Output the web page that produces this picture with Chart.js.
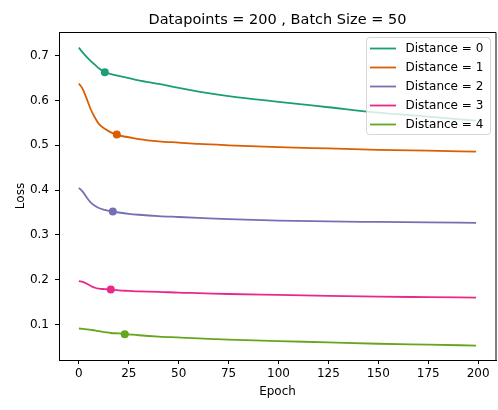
<!DOCTYPE html>
<html>
<head>
<meta charset="utf-8">
<script src="https://cdn.jsdelivr.net/npm/chart.js@4.4.1/dist/chart.umd.min.js"></script>
<style>
  html, body { margin: 0; padding: 0; background: #fff; overflow: hidden; }
  canvas { display: block; }
</style>
</head>
<body>
<canvas id="lossChart" width="500" height="410"></canvas>
<script>
// Data
const epochs = [0, 2, 4, 6, 8, 10, 13, 16, 20, 25, 30, 40, 50, 60, 75, 100, 125, 150, 175, 199];
const lossDist0 = [0.718, 0.707, 0.697, 0.688, 0.680, 0.672, 0.663, 0.659, 0.655, 0.650, 0.645, 0.637, 0.628, 0.620, 0.610, 0.597, 0.585, 0.573, 0.564, 0.555];
const lossDist1 = [0.638, 0.625, 0.603, 0.580, 0.562, 0.548, 0.537, 0.529, 0.522, 0.518, 0.514, 0.509, 0.506, 0.503, 0.500, 0.496, 0.493, 0.490, 0.488, 0.486];
const lossDist2 = [0.405, 0.396, 0.383, 0.372, 0.365, 0.360, 0.356, 0.353, 0.350, 0.347, 0.345, 0.342, 0.340, 0.338, 0.335, 0.332, 0.330, 0.329, 0.328, 0.327];
const lossDist3 = [0.197, 0.195, 0.191, 0.186, 0.182, 0.180, 0.179, 0.178, 0.176, 0.175, 0.174, 0.173, 0.171, 0.170, 0.168, 0.166, 0.164, 0.162, 0.161, 0.160];
const lossDist4 = [0.091, 0.090, 0.089, 0.088, 0.087, 0.085, 0.083, 0.081, 0.080, 0.078, 0.076, 0.073, 0.071, 0.069, 0.066, 0.063, 0.060, 0.057, 0.055, 0.053];

const seriesLabels = ['Distance = 0', 'Distance = 1', 'Distance = 2', 'Distance = 3', 'Distance = 4'];
const seriesColors = ['#1b9e77', '#d95f02', '#7570b3', '#e7298a', '#66a61e'];
const seriesLoss = [lossDist0, lossDist1, lossDist2, lossDist3, lossDist4];

// one marked point on each curve
const markerEpochs = [13, 19, 17, 16, 23];
const markerLoss = [0.663, 0.524, 0.352, 0.178, 0.078];

const xTicks = [0, 25, 50, 75, 100, 125, 150, 175, 200];
const yTicks = [0.1, 0.2, 0.3, 0.4, 0.5, 0.6, 0.7];

Chart.defaults.font.family = 'DejaVu Sans';
Chart.defaults.color = '#000';

// Build the datasets
const datasets = [];
seriesLoss.forEach((loss, i) => {
    datasets.push({
        label: seriesLabels[i],
        data: epochs.map((e, j) => ({ x: e, y: loss[j] })),
        borderColor: seriesColors[i],
        borderWidth: 1.8,
        pointRadius: 0,
        fill: false,
        cubicInterpolationMode: 'monotone',
        inLegend: true
    });
});
seriesLoss.forEach((loss, i) => {
    datasets.push({
        label: seriesLabels[i] + ' marker',
        data: [{ x: markerEpochs[i], y: markerLoss[i] }],
        showLine: false,
        pointRadius: 4,
        pointBackgroundColor: seriesColors[i],
        pointBorderColor: seriesColors[i],
        pointBorderWidth: 0
    });
});

// top and right spines
const frameBox = {
    id: 'frameBox',
    afterDatasetsDraw(chart) {
        const { ctx, chartArea } = chart;
        ctx.save();
        ctx.strokeStyle = '#000';
        ctx.lineWidth = 1;
        ctx.beginPath();
        ctx.moveTo(chartArea.left, chartArea.top + 0.5);
        ctx.lineTo(chartArea.right, chartArea.top + 0.5);
        ctx.lineTo(chartArea.right, chartArea.bottom);
        ctx.stroke();
        ctx.restore();
    }
};

// matplotlib style legend box in the upper right
const boxLegend = {
    id: 'boxLegend',
    afterDraw(chart) {
        const { ctx, chartArea } = chart;
        const items = chart.data.datasets.filter(d => d.inLegend);
        const w = 124, rowH = 19;
        const h = items.length * rowH + 2;
        const right = chartArea.right - 5.5;
        const left = right - w;
        const top = chartArea.top + 5.5;
        ctx.save();
        ctx.fillStyle = 'rgba(255,255,255,0.8)';
        ctx.strokeStyle = 'rgba(204,204,204,0.8)';
        ctx.lineWidth = 1;
        ctx.beginPath();
        ctx.roundRect(left, top, w, h, 3);
        ctx.fill();
        ctx.stroke();
        ctx.font = '12px "DejaVu Sans"';
        ctx.textBaseline = 'middle';
        ctx.fillStyle = '#000';
        items.forEach((d, i) => {
            const y = top + 11 + i * rowH;
            ctx.strokeStyle = d.borderColor;
            ctx.lineWidth = 1.8;
            ctx.beginPath();
            ctx.moveTo(left + 3.5, y);
            ctx.lineTo(left + 29.5, y);
            ctx.stroke();
            ctx.fillText(d.label, left + 39, y + 0.5);
        });
        ctx.restore();
    }
};

new Chart(document.getElementById('lossChart').getContext('2d'), {
    type: 'line',
    data: { datasets: datasets },
    options: {
        responsive: false,
        animation: false,
        layout: { padding: { left: 0, right: 1.3, top: 0, bottom: 0 } },
        plugins: {
            legend: { display: false },
            tooltip: { enabled: false },
            title: {
                display: true,
                text: 'Datapoints = 200 , Batch Size = 50',
                fullSize: false,
                color: '#000',
                font: { size: 14.5, weight: 'normal' },
                padding: { top: 11.3, bottom: 3.3 }
            }
        },
        scales: {
            x: {
                type: 'linear',
                min: -9.95,
                max: 208.95,
                afterBuildTicks: s => { s.ticks = xTicks.map(v => ({ value: v })); },
                afterFit: s => { s.height = 50; },
                ticks: { font: { size: 12 }, color: '#000', padding: 3, maxRotation: 0,
                         callback: v => String(v) },
                grid: { drawOnChartArea: false, drawTicks: true, tickLength: 4, tickColor: '#000' },
                border: { display: true, color: '#000', width: 1 },
                title: { display: true, text: 'Epoch', color: '#000', font: { size: 12 },
                         padding: { top: 0, bottom: 11 } }
            },
            y: {
                type: 'linear',
                min: 0.0207,
                max: 0.753,
                afterBuildTicks: s => { s.ticks = yTicks.map(v => ({ value: v })); },
                afterFit: s => { s.width = 59; },
                ticks: { font: { size: 12 }, color: '#000', padding: 6,
                         callback: v => v.toFixed(1) },
                grid: { drawOnChartArea: false, drawTicks: true, tickLength: 4, tickColor: '#000' },
                border: { display: true, color: '#000', width: 1 },
                title: { display: true, text: 'Loss', color: '#000', font: { size: 12 },
                         padding: { top: 13.5, bottom: 0 } }
            }
        }
    },
    plugins: [frameBox, boxLegend]
});
</script>
</body>
</html>
